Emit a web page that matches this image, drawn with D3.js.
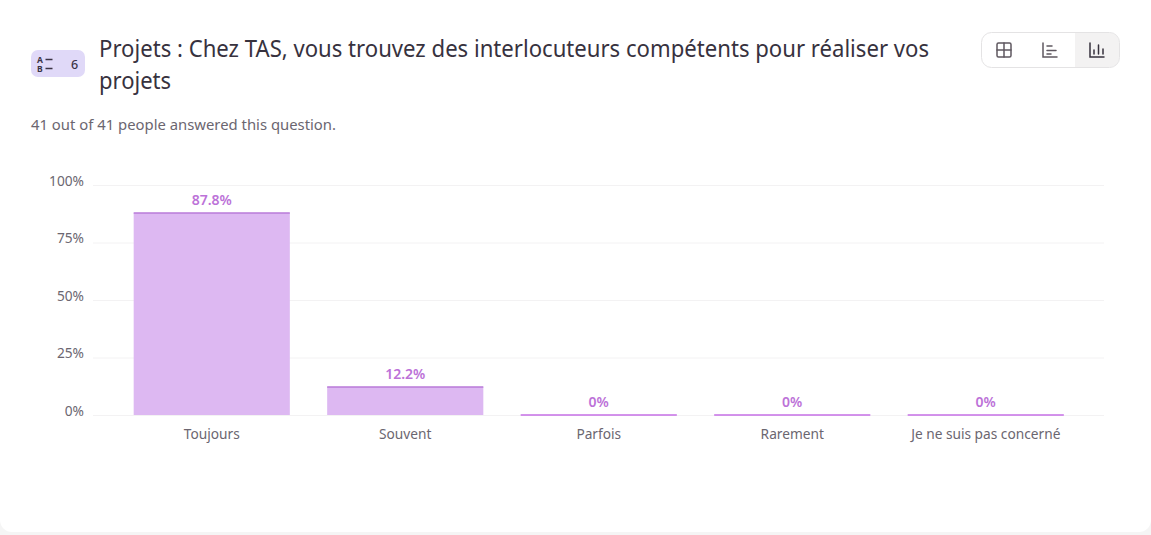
<!DOCTYPE html>
<html><head><meta charset="utf-8">
<script src="https://cdn.jsdelivr.net/npm/d3@7/dist/d3.min.js"></script>
<style>
html,body{margin:0;padding:0;background:#f5f5f5;overflow:hidden}
svg{display:block}
text{font-family:"Noto Sans","Open Sans",sans-serif}
</style></head><body><svg id="c" width="1151" height="535"></svg>
<script>
const categories=["Toujours","Souvent","Parfois","Rarement","Je ne suis pas concerné"];
const percents=[87.8,12.2,0,0,0];
const valueLabels=["87.8%","12.2%","0%","0%","0%"];
const yTicks=[0,25,50,75,100];
const titleLines=["Projets : Chez TAS, vous trouvez des interlocuteurs compétents pour réaliser vos","projets"];
const subtitle="41 out of 41 people answered this question.";
const svg=d3.select("#c");
svg.append("path").attr("d","M0,0H1151V520a12,12 0 0 1 -12,12H12a12,12 0 0 1 -12,-12Z").attr("fill","#fff");
const fit=(s,w)=>s.attr("textLength",w).attr("lengthAdjust","spacingAndGlyphs");

// badge
svg.append("rect").attr("x",31).attr("y",50).attr("width",54).attr("height",27).attr("rx",7).attr("fill","#e0d9f8");
svg.append("text").attr("x",37).attr("y",62.500).attr("font-size",8.5).attr("font-weight",700).attr("fill","#3a3344").text("A");
svg.append("text").attr("x",37).attr("y",71.500).attr("font-size",8.5).attr("font-weight",700).attr("fill","#3a3344").text("B");
svg.append("path").attr("d","M45.500,59.500H52.500M45.500,68.500H52.500").attr("stroke","#3a3344").attr("stroke-width",1.4);
svg.append("text").attr("x",71).attr("y",69).attr("font-size",12.5).attr("font-weight",500).attr("fill","#3a3344").text("6");

// title
const tw=[830,72];
titleLines.forEach((t,i)=>fit(svg.append("text").attr("x",99).attr("y",57+i*32).attr("font-size",23.5).attr("fill","#37323e").text(t),tw[i]));
fit(svg.append("text").attr("x",31).attr("y",130).attr("font-size",15).attr("fill","#6b6670").text(subtitle),305);

// toggle
svg.append("path").attr("d","M1075,33H1110a9,9 0 0 1 9,9V58a9,9 0 0 1 -9,9H1075Z").attr("fill","#f3f2f2");
svg.append("rect").attr("x",981.500).attr("y",32.500).attr("width",138).attr("height",35).attr("rx",10).attr("fill","none").attr("stroke","#e4e3e4");
const ic=svg.append("g").attr("fill","none").attr("stroke-width",1.500).attr("stroke-linecap","round");
ic.append("rect").attr("x",997).attr("y",43).attr("width",14).attr("height",14).attr("rx",1.500).attr("stroke","#5f5860");
ic.append("path").attr("d","M1004,43V57M997,50H1011").attr("stroke","#5f5860");
ic.append("path").attr("d","M1043,43V57H1057M1047,46H1052M1047,50.500H1056M1047,54H1051").attr("stroke","#5f5860");
ic.append("path").attr("d","M1090,43V57H1104M1094,54V50M1098.500,54V45M1103,54V49").attr("stroke","#37323e");

// chart
const x=d3.scaleBand().domain(categories).range([115,1082.5]).paddingInner(0.193).paddingOuter(0.0965);
const y=d3.scaleLinear().domain([0,100]).range([415,185]);
svg.append("g").selectAll("line").data(yTicks).join("line")
 .attr("x1",93).attr("x2",1104).attr("y1",d=>y(d)+.5).attr("y2",d=>y(d)+.5).attr("stroke","#f3f2f3");
const yAxis=svg.append("g").attr("transform","translate(84,0)")
 .call(d3.axisLeft(y).tickValues(yTicks).tickFormat(d=>d+"%").tickSize(0).tickPadding(0));
yAxis.select(".domain").remove();
yAxis.selectAll("text").attr("font-size",14.5).attr("fill","#6b6670").attr("dy","0").attr("y",0).style("font-family",'"Noto Sans"')
 .each(function(){const w=this.getComputedTextLength();fit(d3.select(this),w*0.945);});
const xAxis=svg.append("g").attr("transform","translate(0,415)")
 .call(d3.axisBottom(x).tickSize(0).tickPadding(0));
xAxis.select(".domain").remove();
xAxis.selectAll("text").attr("y",24).attr("dy",0).attr("font-size",14.5).attr("fill","#6b6670").style("font-family",'"Noto Sans"')
 .each(function(){const w=this.getComputedTextLength();fit(d3.select(this),w*0.945);});
svg.append("g").selectAll("rect").data(percents).join("rect")
 .attr("x",(d,i)=>x(categories[i])).attr("width",x.bandwidth())
 .attr("y",d=>y(d)).attr("height",d=>y(0)-y(d)).attr("fill","#ddb8f2");
svg.append("g").selectAll("line").data(percents).join("line")
 .attr("x1",(d,i)=>x(categories[i])).attr("x2",(d,i)=>x(categories[i])+x.bandwidth())
 .attr("y1",d=>y(d)).attr("y2",d=>y(d)).attr("stroke",d=>d>0?"#b97ad9":"#c66fe6").attr("stroke-width",1.5);
svg.append("g").selectAll("text").data(percents).join("text")
 .attr("x",(d,i)=>x(categories[i])+x.bandwidth()/2).attr("y",d=>y(d)-8).attr("text-anchor","middle")
 .attr("font-size",14).attr("font-weight",600).attr("fill","#bc72d8").text((d,i)=>valueLabels[i]);
</script></body></html>
